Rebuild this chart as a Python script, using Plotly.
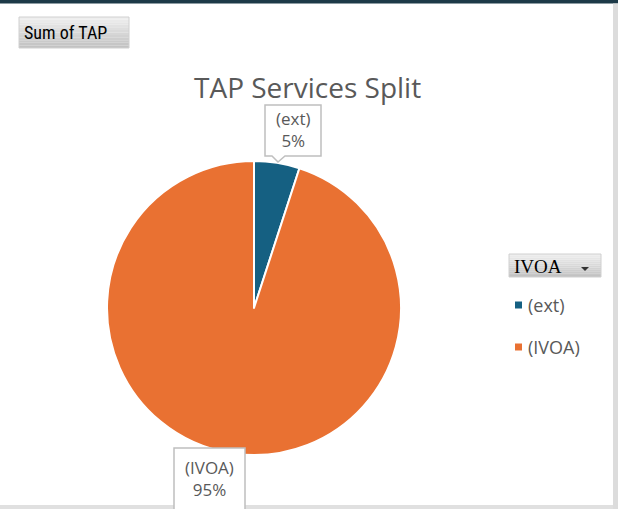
import plotly.graph_objects as go

categories = ["(ext)", "(IVOA)"]
values = [5, 95]
colors = ["#156082", "#E97132"]
title_text = "TAP Services Split"
field_button = "Sum of TAP"
legend_title = "IVOA"

W, H = 618, 509


def px(x):
    return x / W


def py(y):
    return 1 - y / H


total = sum(values)
pcts = [round(v / total * 100) for v in values]

fig = go.Figure()
fig.add_trace(go.Pie(
    labels=categories,
    values=values,
    sort=False,
    direction="clockwise",
    rotation=0,
    marker=dict(colors=colors, line=dict(color="white", width=2)),
    textinfo="none",
    hoverinfo="label+percent",
    showlegend=False,
    domain=dict(x=[px(107), px(401)], y=[py(455), py(161)]),
))

shapes = []
annotations = []

# frame borders
shapes.append(dict(type="rect", xref="paper", yref="paper", x0=0, x1=1, y0=py(3.5), y1=1,
                   fillcolor="#1d3a48", line=dict(width=0), layer="above"))
shapes.append(dict(type="rect", xref="paper", yref="paper", x0=px(613), x1=1, y0=0, y1=py(3.5),
                   fillcolor="#dcdcdc", line=dict(width=0), layer="above"))
shapes.append(dict(type="rect", xref="paper", yref="paper", x0=0, x1=px(613), y0=0, y1=py(505),
                   fillcolor="#e0e0e0", line=dict(width=0), layer="above"))


def gradient_button(x0, y0, x1, y1, top=(238, 238, 238), bottom=(194, 194, 194), steps=12):
    h = (y1 - y0) / steps
    for i in range(steps):
        t = i / (steps - 1)
        c = tuple(int(top[k] + (bottom[k] - top[k]) * t) for k in range(3))
        shapes.append(dict(type="rect", xref="paper", yref="paper",
                           x0=px(x0), x1=px(x1), y0=py(y0 + (i + 1) * h), y1=py(y0 + i * h),
                           fillcolor="rgb(%d,%d,%d)" % c, line=dict(width=0)))
    shapes.append(dict(type="rect", xref="paper", yref="paper",
                       x0=px(x0), x1=px(x1), y0=py(y1), y1=py(y0),
                       fillcolor="rgba(0,0,0,0)", line=dict(color="#d0d0d0", width=1)))


# "Sum of TAP" field button
gradient_button(19, 17, 129, 48)
annotations.append(dict(x=px(22), y=py(32.5), xref="paper", yref="paper", xanchor="left",
                        yanchor="middle", showarrow=False, text=field_button,
                        font=dict(family="Liberation Sans Narrow, Roboto Condensed, Arial Narrow, sans-serif",
                                  size=18, color="#000000")))

# title
annotations.append(dict(x=px(307), y=py(87), xref="paper", yref="paper", xanchor="center",
                        yanchor="middle", showarrow=False, text=title_text,
                        font=dict(family="Open Sans, Noto Sans, sans-serif", size=28, color="#595959")))

# callout boxes for data labels
def callout(x0, y0, x1, y1, tip=None):
    if tip:
        tx, ty, b0, b1 = tip
        path = (f"M {px(x0)},{py(y0)} L {px(x1)},{py(y0)} L {px(x1)},{py(y1)} "
                f"L {px(b1)},{py(y1)} L {px(tx)},{py(ty)} L {px(b0)},{py(y1)} "
                f"L {px(x0)},{py(y1)} Z")
    else:
        path = (f"M {px(x0)},{py(y0)} L {px(x1)},{py(y0)} L {px(x1)},{py(y1)} "
                f"L {px(x0)},{py(y1)} Z")
    shapes.append(dict(type="path", xref="paper", yref="paper", path=path,
                       fillcolor="white", line=dict(color="#bfbfbf", width=1.5), layer="above"))


label_font = dict(family="Open Sans, Noto Sans, sans-serif", size=17, color="#595959")

callout(265, 105, 321, 156, tip=(278, 162, 272, 285))
annotations.append(dict(x=px(293), y=py(129), xref="paper", yref="paper", xanchor="center",
                        yanchor="middle", showarrow=False,
                        text=f"{categories[0]}<br>{pcts[0]}%", font=label_font))

callout(174, 448, 245, 512)
annotations.append(dict(x=px(209.5), y=py(478), xref="paper", yref="paper", xanchor="center",
                        yanchor="middle", showarrow=False,
                        text=f"{categories[1]}<br>{pcts[1]}%", font=label_font))

# legend field button
gradient_button(509, 254, 601, 277)
annotations.append(dict(x=px(512), y=py(266), xref="paper", yref="paper", xanchor="left",
                        yanchor="middle", showarrow=False, text=legend_title,
                        font=dict(family="Liberation Serif, DejaVu Serif, serif", size=19, color="#000000")))
shapes.append(dict(type="path", xref="paper", yref="paper",
                   path=f"M {px(581)},{py(267)} L {px(589)},{py(267)} L {px(585)},{py(271)} Z",
                   fillcolor="#333333", line=dict(width=0)))

# custom legend
leg_y = [305, 347]
for i, lab in enumerate(categories):
    y = leg_y[i]
    shapes.append(dict(type="rect", xref="paper", yref="paper",
                       x0=px(515), x1=px(522), y0=py(y + 3.5), y1=py(y - 3.5),
                       fillcolor=colors[i], line=dict(width=0)))
    annotations.append(dict(x=px(526), y=py(y), xref="paper", yref="paper", xanchor="left",
                            yanchor="middle", showarrow=False, text=lab,
                            font=dict(family="Open Sans, Noto Sans, sans-serif", size=18, color="#595959")))

fig.update_layout(
    width=W, height=H, autosize=False,
    margin=dict(l=0, r=0, t=0, b=0),
    paper_bgcolor="white", plot_bgcolor="white",
    shapes=shapes, annotations=annotations,
    showlegend=False,
)

fig.write_html("out.html", config={"displayModeBar": False},
               post_script="document.body.style.margin='0';document.body.style.overflow='hidden';")
